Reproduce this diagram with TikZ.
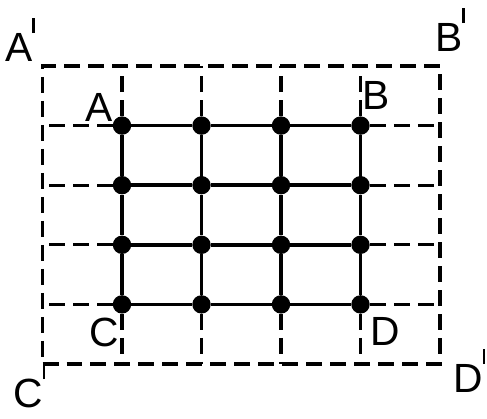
\documentclass[tikz,border=0pt]{standalone}
\usepackage{fontspec}
\setsansfont{Liberation Sans}
\newcommand{\primetick}{\rule[0.72cm]{1.6pt}{0.38cm}}
\tikzset{
	dot/.style={circle, fill, inner sep=0pt, minimum size=0.46cm},
	ext/.style={line width=2.4pt, dash pattern=on 0.4cm off 0.2cm},
	grd/.style={line width=2.6pt},
	lbl/.style={inner sep=0pt, anchor=base west, font=\sffamily\fontsize{29}{32}\selectfont}
}
\begin{document}
\begin{tikzpicture}
	\useasboundingbox (0,0) rectangle (12.175,10.475);
	\begin{scope}[shift={(1.0625,1.375)}, x=1.9875cm, y=1.49cm]
		\coordinate (cbl) at (0,0);
		\coordinate (cbr) at (5,0);
		\coordinate (ctr) at (5,5);
		\coordinate (ctl) at (0,5);
		\foreach \i in {1,...,4} {
			\coordinate (b\i) at (\i,0);
			\coordinate (t\i) at (\i,5);
			\coordinate (l\i) at (0,\i);
			\coordinate (r\i) at (5,\i);
			\foreach \j in {1,...,4} \node[dot] (p\i\j) at (\i,\j) {};
		}
		% dashed frame and extensions
		\draw[ext] (cbl) -- (cbr) -- (ctr) -- (ctl) -- cycle;
		\foreach \i in {1,...,4} \draw[ext] (p\i1) -- (b\i);
		\foreach \i in {1,...,4} \draw[ext] (p\i4) -- (t\i);
		\foreach \j in {1,...,4} \draw[ext] (p1\j) -- (l\j);
		\foreach \j in {1,...,4} \draw[ext] (p4\j) -- (r\j);
		% solid grid
		\foreach \j in {1,...,4} \draw[grd] (p1\j) -- (p2\j) -- (p3\j) -- (p4\j);
		\foreach \i in {1,...,4} \draw[grd] (p\i1) -- (p\i2) -- (p\i3) -- (p\i4);
		% labels
		\node[lbl] (lA) at ([xshift=-0.925cm,yshift=0.1cm]p14) {A};
		\node[lbl] (lB) at ([xshift=0.05cm,yshift=0.4cm]p44) {B};
		\node[lbl] (lC) at ([xshift=-0.83cm,yshift=-1.05cm]p11) {C};
		\node[lbl] (lD) at ([xshift=0.24cm,yshift=-1.025cm]p41) {D};
		\node[lbl] (lA') at ([xshift=-0.94cm,yshift=0.1cm]ctl) {A\primetick};
		\node[lbl] (lB') at ([xshift=-0.125cm,yshift=0.35cm]ctr) {B\primetick};
		\node[lbl] (lC') at ([xshift=-0.74cm,yshift=-1.1cm]cbl) {C\primetick};
		\node[lbl] (lD') at ([xshift=0.325cm,yshift=-0.725cm]cbr) {D\primetick};
	\end{scope}
\end{tikzpicture}
\end{document}
